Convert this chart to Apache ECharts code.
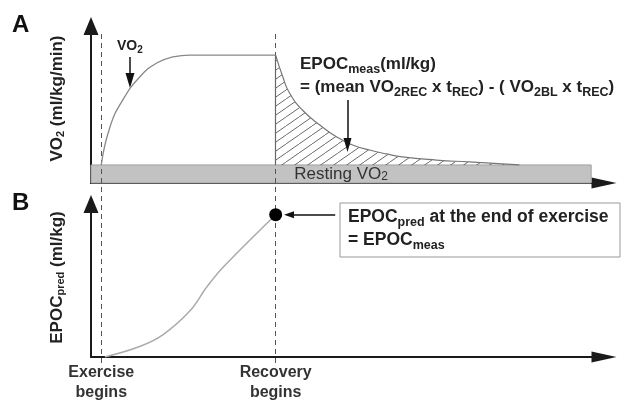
<!DOCTYPE html>
<html><head><meta charset="utf-8">
<script src="https://cdn.jsdelivr.net/npm/echarts@6/dist/echarts.min.js"></script>
<style>html,body{margin:0;padding:0;background:#fff}#c{width:629px;height:403px}</style>
</head><body><div id="c"></div>
<script>
// ---------- data (arbitrary schematic units: time 0-100, value 0-100) ----------
const timeRange = [0, 100];
const valueRange = [0, 100];
const exerciseBegins = 2;
const recoveryBegins = 36;
const xLabelValues = [2, 36];
const xLabelTexts = ['Exercise\nbegins', 'Recovery\nbegins'];
const restingVO2 = 11.5;
const restingEnd = 97.5;

const vo2ExerciseX = [2, 3.7, 6.2, 9.5, 12.8, 16, 19.3, 24, 30, 36];
const vo2ExerciseY = [11.5, 35.7, 52.9, 67.5, 76.4, 80.3, 81.5, 81.5, 81.5, 81.5];

const vo2RecoveryX = [36, 37.4, 38.7, 41.2, 44.6, 47.9, 51, 54.3, 57.6, 60.7, 67.3, 73.7, 83.5];
const vo2RecoveryY = [81.5, 67.5, 57.3, 46.5, 36.9, 29.3, 24.2, 21, 18.5, 16.6, 14.6, 13.4, 11.5];

const epocPredX = [2.7, 9.5, 14, 19.3, 22.6, 25.7, 36];
const epocPredY = [0, 6.9, 14.5, 30.2, 45.9, 58.5, 93];
const epocEndPoint = [36, 93];

// annotation arrows (data units)
const vo2Arrow = [[7.6, 80.3], [7.6, 65.3]];
const epocMeasArrow = [[50, 52.9], [50, 24.2]];
const epocPredArrow = [[47.6, 93], [38.6, 93]];

// ---------- build ----------
const F = '"Liberation Sans", Arial, Helvetica, sans-serif';
const zip = (xs, ys) => xs.map((x, i) => [x, ys[i]]);

const hatch = document.createElement('canvas');
hatch.width = 13; hatch.height = 9;
const g = hatch.getContext('2d');
g.strokeStyle = '#6a6a6a'; g.lineWidth = 1;
g.beginPath(); g.moveTo(-2, 9 + 18 / 13); g.lineTo(15, -18 / 13); g.stroke();

function subStyle(size, weight) {
  return {fontFamily: F, fontWeight: weight || 'bold', fontSize: size, color: '#222', fill: '#222', verticalAlign: 'bottom'};
}

const axisLineX = {show: true, symbol: ['none', 'triangle'], symbolSize: [11, 25], lineStyle: {color: '#1a1a1a', width: 2}};
const axisLineY = {show: true, symbol: ['none', 'triangle'], symbolSize: [15, 18], lineStyle: {color: '#1a1a1a', width: 2}};
const hidden = {axisTick: {show: false}, splitLine: {show: false}};

const chart = echarts.init(document.getElementById('c'));
chart.setOption({
  animation: false,
  backgroundColor: '#fff',
  textStyle: {fontFamily: F},
  grid: [
    {left: 91, right: 25, top: 26, height: 157},
    {left: 91, right: 25, top: 204, height: 159},
    {left: 91, right: 25, top: 33, height: 330}
  ],
  xAxis: [
    Object.assign({gridIndex: 0, type: 'value', min: timeRange[0], max: timeRange[1], axisLine: axisLineX, axisLabel: {show: false}}, hidden),
    Object.assign({gridIndex: 1, type: 'value', min: timeRange[0], max: timeRange[1], axisLine: axisLineX,
      axisLabel: {show: true, customValues: xLabelValues, margin: 6, fontFamily: F, fontWeight: 'bold', fontSize: 16, lineHeight: 20, color: '#333',
        formatter: v => xLabelTexts[xLabelValues.indexOf(v)] || ''}}, hidden),
    {gridIndex: 2, type: 'value', min: timeRange[0], max: timeRange[1], show: false}
  ],
  yAxis: [
    Object.assign({gridIndex: 0, type: 'value', min: valueRange[0], max: valueRange[1], axisLine: axisLineY, axisLabel: {show: false},
      name: 'VO{s|2} (ml/kg/min)', nameLocation: 'middle', nameRotate: 90, nameGap: 25,
      nameTextStyle: {fontFamily: F, fontWeight: 'bold', fontSize: 17, color: '#222', padding: [0, 0, 0, 12], rich: {s: subStyle(11)}}}, hidden),
    Object.assign({gridIndex: 1, type: 'value', min: valueRange[0], max: valueRange[1], axisLine: axisLineY, axisLabel: {show: false},
      name: 'EPOC{s|pred} (ml/kg)', nameLocation: 'middle', nameRotate: 90, nameGap: 25,
      nameTextStyle: {fontFamily: F, fontWeight: 'bold', fontSize: 17, color: '#222', padding: [0, 0, 0, 6], rich: {s: subStyle(11)}}}, hidden),
    {gridIndex: 2, type: 'value', min: 0, max: 1, show: false}
  ],
  series: [
    {
      type: 'line', name: 'guides', xAxisIndex: 2, yAxisIndex: 2, data: [], z: 1,
      markLine: {silent: true, symbol: ['none', 'none'], label: {show: false},
        lineStyle: {type: [5, 4], color: '#555', width: 1},
        data: [{xAxis: exerciseBegins}, {xAxis: recoveryBegins}]}
    },
    {
      type: 'line', name: 'Resting VO2', xAxisIndex: 0, yAxisIndex: 0, data: [], z: 2,
      markArea: {silent: true,
        itemStyle: {color: '#c2c2c2', borderColor: '#a0a0a0', borderWidth: 1},
        label: {show: true, position: 'inside', formatter: 'Resting VO{s|2}', fontFamily: F, fontSize: 17, color: '#333',
          rich: {s: {fontFamily: F, fontSize: 12, color: '#333', verticalAlign: 'bottom'}}},
        data: [[{coord: [timeRange[0], valueRange[0]]}, {coord: [restingEnd, restingVO2]}]]}
    },
    {
      type: 'line', name: 'VO2 recovery', xAxisIndex: 0, yAxisIndex: 0, z: 3,
      data: zip(vo2RecoveryX, vo2RecoveryY), smooth: 0.5, symbol: 'none',
      lineStyle: {color: '#777', width: 1.2},
      areaStyle: {color: {image: hatch, repeat: 'repeat'}, origin: restingVO2, opacity: 1},
      markLine: {silent: true, label: {show: false}, symbol: ['none', 'triangle'], symbolSize: [8, 14],
        lineStyle: {color: '#111', width: 1.5, type: 'solid'},
        data: [
          [{coord: [recoveryBegins, restingVO2], symbol: 'none', lineStyle: {color: '#666', width: 1.2, type: 'solid'}},
           {coord: [recoveryBegins, vo2RecoveryY[0]], symbol: 'none', lineStyle: {color: '#666', width: 1.2, type: 'solid'}}],
          [{coord: epocMeasArrow[0]}, {coord: epocMeasArrow[1]}]
        ]}
    },
    {
      type: 'line', name: 'VO2 exercise', xAxisIndex: 0, yAxisIndex: 0, z: 5,
      data: zip(vo2ExerciseX, vo2ExerciseY), smooth: 0.5, symbol: 'none',
      lineStyle: {color: '#888', width: 1.3},
      markLine: {silent: true, label: {show: false}, symbol: ['none', 'triangle'], symbolSize: [9, 15],
        lineStyle: {color: '#111', width: 1.5, type: 'solid'},
        data: [[{coord: vo2Arrow[0]}, {coord: vo2Arrow[1]}]]}
    },
    {
      type: 'line', name: 'EPOC pred', xAxisIndex: 1, yAxisIndex: 1, z: 3,
      data: zip(epocPredX, epocPredY), smooth: 0.35, symbol: 'none',
      lineStyle: {color: '#aaa', width: 1.5},
      markLine: {silent: true, label: {show: false}, symbol: ['none', 'triangle'], symbolSize: [7, 10],
        lineStyle: {color: '#111', width: 1.5, type: 'solid'},
        data: [[{coord: epocPredArrow[0]}, {coord: epocPredArrow[1]}]]}
    },
    {
      type: 'scatter', name: 'EPOC end', xAxisIndex: 1, yAxisIndex: 1, z: 6,
      data: [epocEndPoint], symbolSize: 13, itemStyle: {color: '#000', opacity: 1}
    }
  ],
  graphic: [
    {type: 'text', x: 12, y: 13, style: {text: 'A', font: 'bold 24px ' + F, fill: '#111'}},
    {type: 'text', x: 12, y: 191, style: {text: 'B', font: 'bold 24px ' + F, fill: '#111'}},
    {type: 'text', x: 117, y: 38, style: {text: 'VO{s|2}', fontFamily: F, fontWeight: 'bold', fontSize: 14, fill: '#222', lineHeight: 17,
      rich: {s: subStyle(10)}}},
    {type: 'text', x: 300, y: 53, style: {
      text: 'EPOC{s|meas}(ml/kg)\n= (mean VO{s|2REC} x t{s|REC}) - ( VO{s|2BL} x t{s|REC})',
      fontFamily: F, fontWeight: 'bold', fontSize: 17, fill: '#222', lineHeight: 23,
      rich: {s: subStyle(12.5)}}},
    {type: 'rect', shape: {x: 340, y: 203, width: 280, height: 54}, style: {fill: '#fff', stroke: '#999', lineWidth: 1}},
    {type: 'text', x: 348, y: 206, style: {
      text: 'EPOC{s|pred} at the end of exercise\n= EPOC{s|meas}',
      fontFamily: F, fontWeight: 'bold', fontSize: 17.5, fill: '#222', lineHeight: 23,
      rich: {s: subStyle(12.5)}}}
  ]
});
</script>
</body></html>
